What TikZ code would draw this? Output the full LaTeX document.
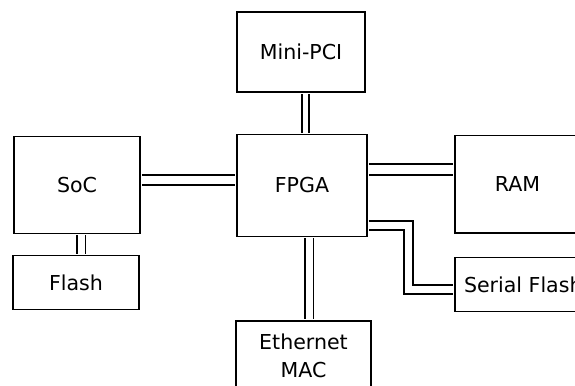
\documentclass[tikz,border=0pt]{standalone}
\usepackage{fontspec}
\setmainfont{DejaVu Sans}
\usepackage{tikz}

\begin{document}
\begin{tikzpicture}
[
block/.style={
% The shape:
rectangle,
% The border:
draw=black,
line width=1.13pt,
% The text:
font=\fontsize{11.7}{16.3}\selectfont,
align=center,
},
bus/.style={
% two thin lines with a white gap
draw=black,
line width=1.13pt,
double=white,
double distance=0.14cm,
% stop at the outer edge of the border
shorten <=0.55pt,
shorten >=0.55pt,
}
]
    \useasboundingbox (0,0) rectangle (11.5,-7.7);
    \clip (0,0) rectangle (11.5,-7.7);
    \node[below, block, minimum width=2.56cm, minimum height=1.6cm] (minipci) at (6.02, -0.22) {Mini-PCI};
    \node[below, block, minimum width=2.6cm, minimum height=2.04cm] (fpga) at (6.04, -2.67) {FPGA};
    \node[below, block, minimum width=2.52cm, minimum height=1.94cm] (soc) at (1.54, -2.71) {SoC};
    \node[below, block, minimum width=2.52cm, minimum height=1.08cm] (flash) at (1.52, -5.09) {Flash};
    \node[below right, block, minimum width=2.5cm, minimum height=1.95cm] (ram) at (9.08, -2.69) {RAM};
    \node[below right, block, inner xsep=0.18cm, minimum height=1.08cm] (sflash) at (9.08, -5.13) {Serial Flash};
    \node[below, block, minimum width=2.7cm, minimum height=1.4cm] (eth) at (6.07, -6.4) {Ethernet\\MAC};
    \draw[bus, double distance=0.11cm] ([xshift=0.9mm]minipci.south) -- ([xshift=0.9mm]minipci.south |- fpga.north);
    \draw[bus, double distance=0.16cm] ([yshift=1mm]soc.east) -- ([yshift=1mm]soc.east -| fpga.west);
    \draw[bus, double distance=0.19cm] ([yshift=3.2mm]fpga.east) -- ([yshift=3.2mm]fpga.east -| ram.west);
    \draw[bus] ([xshift=0.8mm]soc.south) -- ([xshift=0.8mm]soc.south |- flash.north);
    \draw[bus] ([xshift=1.4mm]fpga.south) -- ([xshift=1.4mm]fpga.south |- eth.north);
    \draw[bus] ([yshift=-8mm]fpga.east) -- ++(0.81,0) |- ([yshift=-1mm]sflash.west);
\end{tikzpicture}
\end{document}
